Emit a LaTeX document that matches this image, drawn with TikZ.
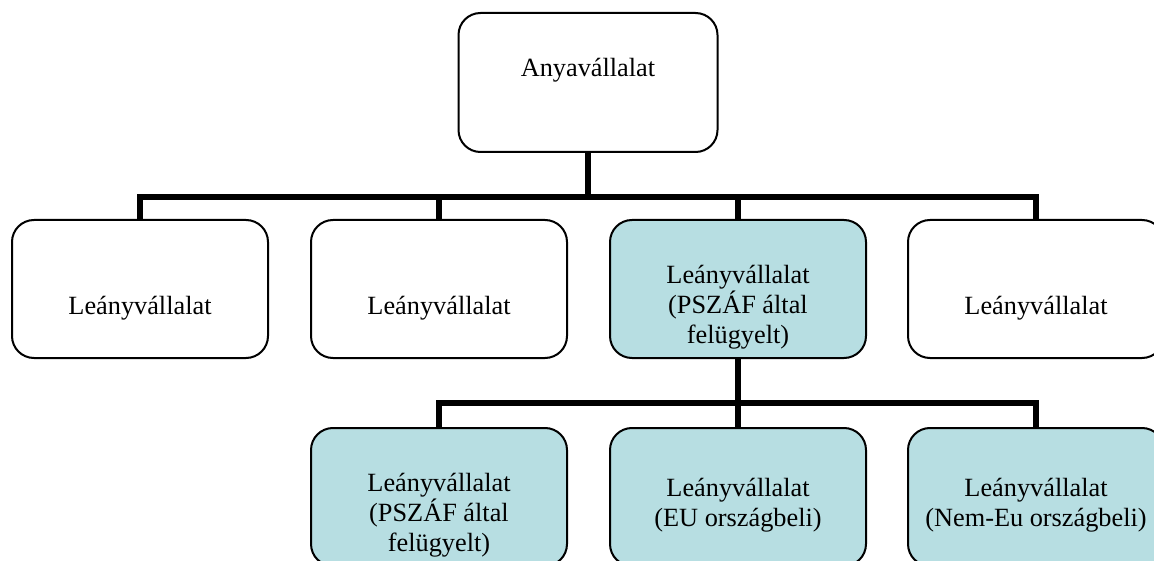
\documentclass[tikz,border=0pt]{standalone}
\usepackage{fontspec}
\setmainfont{Liberation Serif}
\definecolor{subfill}{RGB}{183,222,226}
\begin{document}
\begin{tikzpicture}[x=1pt,y=-1pt,
  box/.style={draw=black,line width=2pt,rounded corners=22pt,
    minimum width=256pt,minimum height=138pt,inner sep=0pt},
  topbox/.style={box,minimum width=259pt,minimum height=139pt},
  sub/.style={fill=subfill},
  lbl/.style={anchor=base,align=center,inner sep=0pt,
    font=\fontsize{26.3}{30}\selectfont},
  conn/.style={line width=6pt,line join=miter,line cap=butt}]
\useasboundingbox (0,0) rectangle (1154,561);
\clip (0,0) rectangle (1154,561);

% parent company
\node[topbox] (top) at (588,82.5) {};
% first level of subsidiaries
\node[box] (c1) at (140,289) {};
\node[box] (c2) at (439,289) {};
\node[box,sub] (c3) at (738,289) {};
\node[box] (c4) at (1036,289) {};
% second level, below the supervised subsidiary
\node[box,sub] (d1) at (439,497) {};
\node[box,sub] (d2) at (738,497) {};
\node[box,sub] (d3) at (1036,497) {};

% levels of the two bus bars
\coordinate (j1) at (588,197);
\coordinate (j2) at (738,403);

% connectors
\draw[conn] (top.south) -- (top.south |- j1);
\draw[conn] (c1.north) -- (c1.north |- j1) -- (c4.north |- j1) -- (c4.north);
\draw[conn] (c2.north) -- (c2.north |- j1);
\draw[conn] (c3.north) -- (c3.north |- j1);
\draw[conn] (c3.south) -- (d2.north);
\draw[conn] (d1.north) -- (d1.north |- j2) -- (d3.north |- j2) -- (d3.north);

% labels (anchor base = baseline of the last line)
\node[lbl] (ttop) at (588,77) {Anyavállalat};
\node[lbl] (tc1) at (140,315) {Leányvállalat};
\node[lbl] (tc2) at (439,315) {Leányvállalat};
\node[lbl] (tc3) at (738,344) {Leányvállalat\\(PSZÁF által\\felügyelt)};
\node[lbl] (tc4) at (1036,315) {Leányvállalat};
\node[lbl] (td1) at (439,551) {Leányvállalat\\(PSZÁF által\\felügyelt)};
\node[lbl] (td2) at (738,526) {Leányvállalat\\(EU országbeli)};
\node[lbl] (td3) at (1036,526) {Leányvállalat\\(Nem-Eu országbeli)};
\end{tikzpicture}
\end{document}
